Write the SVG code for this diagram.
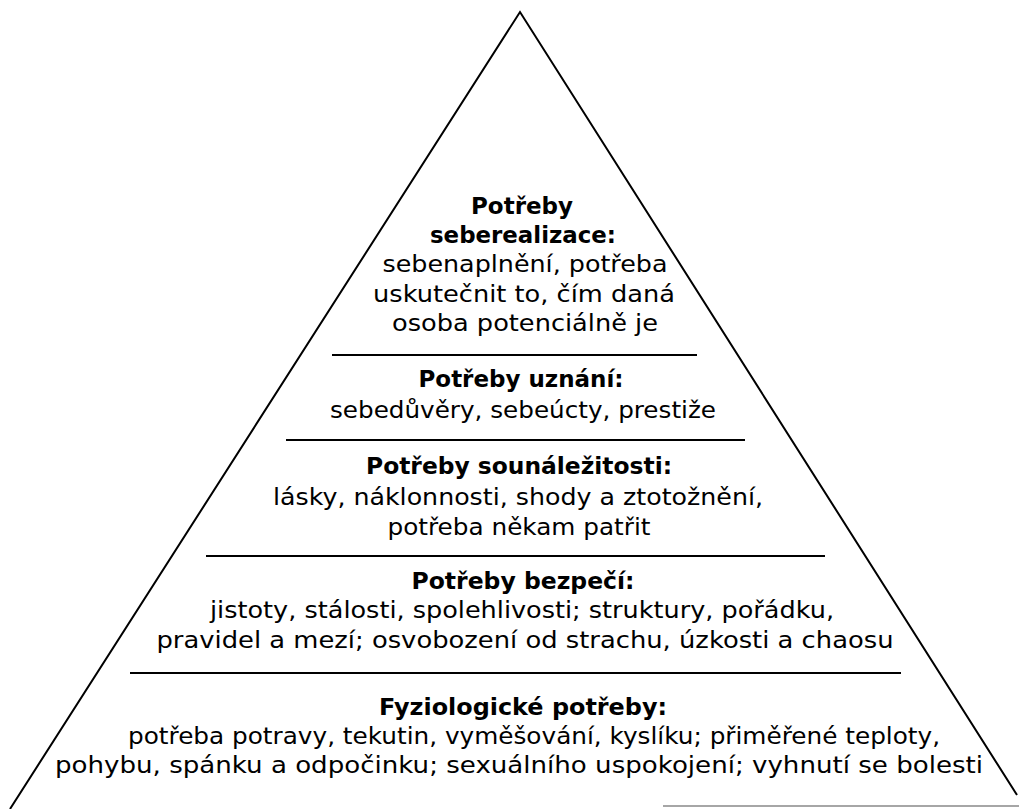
<svg xmlns="http://www.w3.org/2000/svg" width="1019" height="809" viewBox="0 0 1019 809">
<style>
.t{font-family:"DejaVu Sans","Open Sans","Liberation Sans",sans-serif;font-size:23px;fill:#000;text-anchor:middle}
.b{font-weight:700}
.edge{stroke:#000;stroke-width:2;fill:none}
.div{stroke:#000;stroke-width:2}
</style>
<rect width="1019" height="809" fill="#fff"/>
<g id="frame">
<polyline class="edge" points="10,809 520,12 1017,795"/>
<line x1="663" y1="806" x2="1019" y2="806" stroke="#888" stroke-width="1.5"/>
</g>
<g id="connectors">
<line class="div" x1="332" y1="355" x2="697" y2="355"/>
<line class="div" x1="286" y1="440" x2="745" y2="440"/>
<line class="div" x1="206" y1="556" x2="825" y2="556"/>
<line class="div" x1="130" y1="673" x2="901" y2="673"/>
</g>
<g id="seberealizace">
<text class="t b" x="522" y="214" textLength="102" lengthAdjust="spacingAndGlyphs">Potřeby</text>
<text class="t b" x="523" y="243" textLength="186" lengthAdjust="spacingAndGlyphs">seberealizace:</text>
<text class="t" x="525" y="272" textLength="285" lengthAdjust="spacingAndGlyphs">sebenaplnění, potřeba</text>
<text class="t" x="524" y="302" textLength="302" lengthAdjust="spacingAndGlyphs">uskutečnit to, čím daná</text>
<text class="t" x="525" y="331" textLength="266" lengthAdjust="spacingAndGlyphs">osoba potenciálně je</text>
</g>
<g id="uznani">
<text class="t b" x="521" y="387" textLength="205" lengthAdjust="spacingAndGlyphs">Potřeby uznání:</text>
<text class="t" x="523" y="418" textLength="386" lengthAdjust="spacingAndGlyphs">sebedůvěry, sebeúcty, prestiže</text>
</g>
<g id="sounalezitost">
<text class="t b" x="519" y="474" textLength="306" lengthAdjust="spacingAndGlyphs">Potřeby sounáležitosti:</text>
<text class="t" x="518" y="505" textLength="490" lengthAdjust="spacingAndGlyphs">lásky, náklonnosti, shody a ztotožnění,</text>
<text class="t" x="519" y="535" textLength="263" lengthAdjust="spacingAndGlyphs">potřeba někam patřit</text>
</g>
<g id="bezpeci">
<text class="t b" x="523" y="589" textLength="223" lengthAdjust="spacingAndGlyphs">Potřeby bezpečí:</text>
<text class="t" x="522" y="618" textLength="624" lengthAdjust="spacingAndGlyphs">jistoty, stálosti, spolehlivosti; struktury, pořádku,</text>
<text class="t" x="525" y="648" textLength="737" lengthAdjust="spacingAndGlyphs">pravidel a mezí; osvobození od strachu, úzkosti a chaosu</text>
</g>
<g id="fyziologicke">
<text class="t b" x="523" y="715" textLength="288" lengthAdjust="spacingAndGlyphs">Fyziologické potřeby:</text>
<text class="t" x="534" y="744" textLength="812" lengthAdjust="spacingAndGlyphs">potřeba potravy, tekutin, vyměšování, kyslíku; přiměřené teploty,</text>
<text class="t" x="519" y="773" textLength="928" lengthAdjust="spacingAndGlyphs">pohybu, spánku a odpočinku; sexuálního uspokojení; vyhnutí se bolesti</text>
</g>
</svg>
